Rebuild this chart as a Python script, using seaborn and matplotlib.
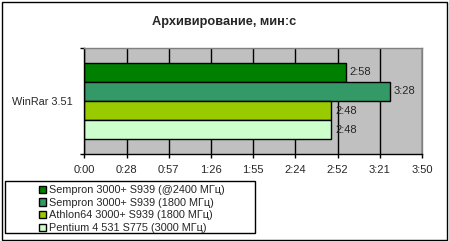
import matplotlib
matplotlib.use("Agg")
import matplotlib.pyplot as plt
import seaborn as sns
import pandas as pd
from matplotlib.patches import Rectangle
from matplotlib.ticker import FixedLocator

# ---- data ----
category = "WinRar 3.51"
series = [
    "Sempron 3000+ S939 (@2400 МГц)",
    "Sempron 3000+ S939 (1800 МГц)",
    "Athlon64 3000+ S939 (1800 МГц)",
    "Pentium 4 531 S775 (3000 МГц)",
]
seconds = [178, 208, 168, 168]
colors = ["#008000", "#339966", "#99CC00", "#CCFFCC"]
x_ticks = [0, 28.75, 57.5, 86.25, 115, 143.75, 172.5, 201.25, 230]
x_tick_labels = ["0:00", "0:28", "0:57", "1:26", "1:55", "2:24", "2:52", "3:21", "3:50"]
title = "Архивирование, мин:с"

df = pd.DataFrame({"test": [category] * len(series), "cpu": series, "sec": seconds})

FS = 8.0
LFS = 7.8

sns.set_style("white")
plt.rcParams["font.family"] = ["Liberation Sans", "DejaVu Sans"]
plt.rcParams["font.size"] = FS

fig = plt.figure(figsize=(4.49, 2.41), dpi=100)
fig.patch.set_facecolor("white")
ax = fig.add_axes([84.3 / 449, 87 / 241, (422 - 84.3) / 449, 106 / 241])
ax.set_facecolor("#C0C0C0")

sns.barplot(data=df, y="test", x="sec", hue="cpu", hue_order=series,
            palette=colors, orient="h", width=0.72, gap=0,
            edgecolor="black", linewidth=1, ax=ax, saturation=1, legend=True)

ax.set_xlim(0, 230)
ax.set_ylim(0.5, -0.5)
ax.set_xticks(x_ticks)
ax.set_xticklabels(x_tick_labels)
ax.xaxis.grid(True, color="black", linewidth=1)
ax.yaxis.grid(False)
ax.set_axisbelow(True)
ax.tick_params(axis="x", which="major", direction="out", length=3, width=1,
               color="black", pad=5, labelsize=FS, bottom=True)
ax.set_yticks([0])
ax.set_yticklabels([category])
ax.yaxis.set_minor_locator(FixedLocator([-0.5, 0.5]))
ax.tick_params(axis="y", which="major", length=0, pad=8, labelsize=LFS)
ax.tick_params(axis="y", which="minor", direction="out", length=3, width=1,
               color="black", left=True)
ax.set_xlabel("")
ax.set_ylabel("")
for s in ["left", "bottom"]:
    ax.spines[s].set_color("black")
    ax.spines[s].set_linewidth(1)
for s in ["top", "right"]:
    ax.spines[s].set_color("#808080")
    ax.spines[s].set_linewidth(1)

# value labels
for cont in ax.containers:
    labs = [f"{int(v) // 60}:{int(v) % 60:02d}" for v in cont.datavalues]
    ax.bar_label(cont, labels=labs, padding=3, fontsize=FS)

# legend
handles, labels = ax.get_legend_handles_labels()
ax.get_legend().remove()
fig.patches.append(Rectangle((5 / 449, 8 / 241), 250 / 449, 52 / 241,
                             transform=fig.transFigure, facecolor="white",
                             edgecolor="black", linewidth=1, zorder=0))
leg = fig.legend(handles, labels, loc="upper left",
                 bbox_to_anchor=(37 / 449, 1 - 183 / 241), frameon=False,
                 fontsize=LFS, handlelength=0.65, handleheight=0.65,
                 handletextpad=0.25, labelspacing=0.24, borderpad=0.2,
                 borderaxespad=0)

fig.text(224 / 449, 1 - 22 / 241, title, ha="center", va="center",
         fontsize=9.2, fontweight="bold")

# outer border
fig.patches.append(Rectangle((1.5 / 449, 1.5 / 241), 445.5 / 449, 237.5 / 241,
                             transform=fig.transFigure, facecolor="none",
                             edgecolor="black", linewidth=1))

fig.savefig("out.png", dpi=100)
